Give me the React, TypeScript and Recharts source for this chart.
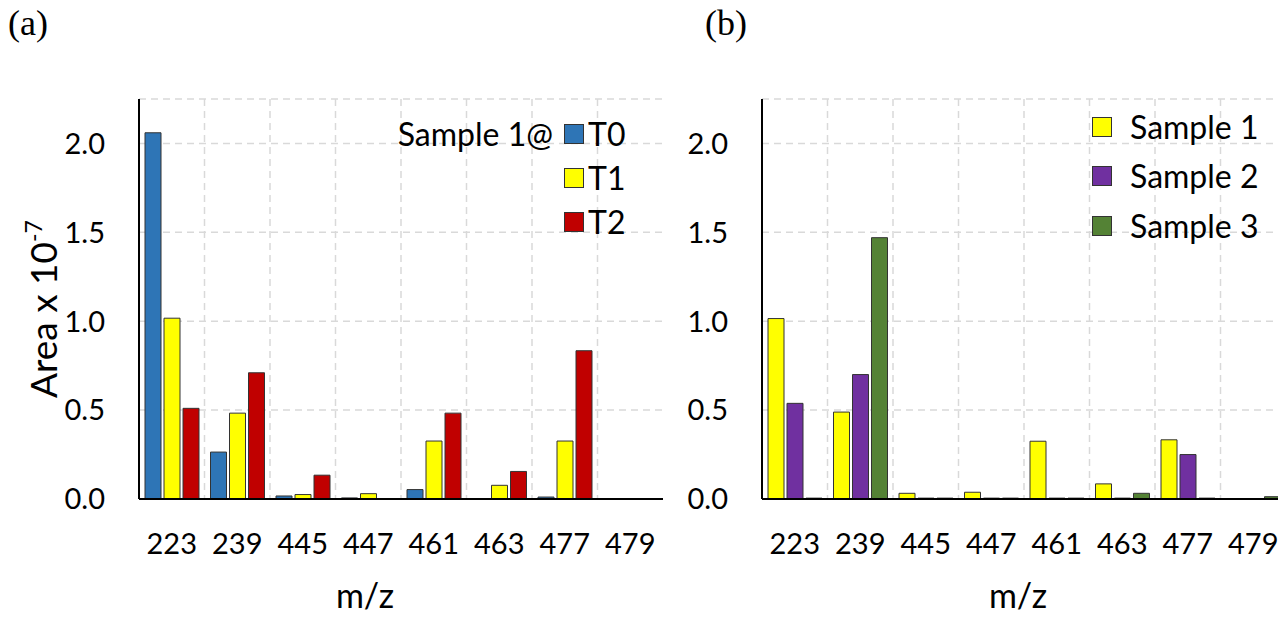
import React from "react";
import { BarChart, Bar, XAxis, YAxis, CartesianGrid } from "recharts";

// m/z categories shared by both panels
const MZ = ["223", "239", "445", "447", "461", "463", "477", "479"];

// panel (a): Sample 1 at three time points (Area x 10^-7)
const T0 = [2.06, 0.264, 0.017, 0.006, 0.053, 0, 0.011, 0];
const T1 = [1.017, 0.483, 0.025, 0.03, 0.326, 0.077, 0.326, 0];
const T2 = [0.51, 0.71, 0.134, 0, 0.483, 0.155, 0.834, 0];

// panel (b): three samples
const S1 = [1.015, 0.489, 0.032, 0.038, 0.325, 0.085, 0.333, 0];
const S2 = [0.538, 0.7, 0.005, 0.005, 0.005, 0.005, 0.25, 0];
const S3 = [0.005, 1.47, 0.005, 0.005, 0.005, 0.032, 0.005, 0.013];

const Y_TICKS = [0, 0.5, 1, 1.5, 2];
const Y_MAX = 2.25;

const FONT = "Lato, 'Open Sans', sans-serif";
const SERIF = "'Liberation Serif', 'Times New Roman', serif";
const OUTLINE = "#333333";

const seriesA = [
  { key: "T0", label: "T0", color: "#2E75B6" },
  { key: "T1", label: "T1", color: "#FFFF00" },
  { key: "T2", label: "T2", color: "#C00000" },
];
const seriesB = [
  { key: "S1", label: "Sample 1", color: "#FFFF00" },
  { key: "S2", label: "Sample 2", color: "#7030A0" },
  { key: "S3", label: "Sample 3", color: "#548235" },
];

const dataA = MZ.map((mz, i) => ({ mz, T0: T0[i], T1: T1[i], T2: T2[i] }));
const dataB = MZ.map((mz, i) => ({ mz, S1: S1[i], S2: S2[i], S3: S3[i] }));

// dashed vertical lines sit between categories, not on them
const boundaries = ({ offset }: any) =>
  MZ.slice(1).map((_, i) => offset.left + ((i + 1) * offset.width) / MZ.length);

const tickStyle = { fontSize: 29, fill: "#000", fontFamily: FONT };
const frame = { stroke: "#000", strokeWidth: 2 };

const AreaLabel = ({ viewBox }: any) => {
  const cx = 57;
  const cy = viewBox.y + viewBox.height / 2 + 10;
  return (
    <text
      x={cx}
      y={cy}
      transform={`rotate(-90 ${cx} ${cy})`}
      textAnchor="middle"
      fill="#000"
      fontSize={37}
      fontFamily={FONT}
    >
      Area x 10
      <tspan dy={-15} fontSize={23}>
        -7
      </tspan>
    </text>
  );
};

const mzLabel = (dx: number) => ({ viewBox }: any) => (
  <text
    x={viewBox.x + viewBox.width / 2 + dx}
    y={viewBox.y + 109}
    textAnchor="middle"
    fill="#000"
    fontSize={34}
    fontFamily={FONT}
  >
    m/z
  </text>
);

const Swatch = ({ color }: { color: string }) => (
  <span
    style={{
      display: "inline-block",
      width: 20,
      height: 20,
      boxSizing: "border-box",
      background: color,
      border: `1.5px solid ${OUTLINE}`,
      flex: "none",
    }}
  />
);

function SeriesLegend({ series, left, top, rowHeight, gap, title }: any) {
  return (
    <div
      style={{
        position: "absolute",
        left,
        top,
        fontFamily: FONT,
        fontSize: 32,
        color: "#000",
      }}
    >
      {title && (
        <div
          style={{
            position: "absolute",
            right: "100%",
            marginRight: 11,
            top: 0,
            height: rowHeight,
            lineHeight: `${rowHeight}px`,
            whiteSpace: "nowrap",
          }}
        >
          {title}
        </div>
      )}
      {series.map((s: any) => (
        <div key={s.key} style={{ display: "flex", alignItems: "center", height: rowHeight, gap }}>
          <Swatch color={s.color} />
          <span style={{ lineHeight: 1, whiteSpace: "nowrap" }}>{s.label}</span>
        </div>
      ))}
    </div>
  );
}

function Panel({ data, series, left, width, marginLeft, marginRight, mzDx, yLabel }: any) {
  return (
    <div style={{ position: "absolute", left, top: 0 }}>
      <BarChart
        width={width}
        height={617}
        data={data}
        margin={{ top: 99, right: marginRight, bottom: 0, left: marginLeft }}
        barSize={16}
        barGap={3}
      >
        <CartesianGrid
          stroke="#d9d9d9"
          strokeWidth={1.5}
          strokeDasharray="7 5"
          verticalCoordinatesGenerator={boundaries}
        />
        <XAxis
          dataKey="mz"
          interval={0}
          height={118}
          tickSize={0}
          tickMargin={34}
          tickLine={false}
          tick={tickStyle}
          axisLine={frame}
          label={{ content: mzLabel(mzDx) }}
        />
        <XAxis
          xAxisId="top"
          dataKey="mz"
          orientation="top"
          height={0}
          tick={false}
          tickLine={false}
          axisLine={frame}
        />
        <YAxis
          type="number"
          domain={[0, Y_MAX]}
          ticks={Y_TICKS}
          width={70}
          tickSize={0}
          tickMargin={34}
          tickLine={false}
          tick={tickStyle}
          tickFormatter={(v: number) => v.toFixed(1)}
          axisLine={frame}
          label={yLabel ? { content: AreaLabel } : undefined}
        />
        <YAxis
          yAxisId="right"
          orientation="right"
          type="number"
          domain={[0, Y_MAX]}
          width={0}
          tick={false}
          tickLine={false}
          axisLine={frame}
        />
        {series.map((s: any) => (
          <Bar
            key={s.key}
            dataKey={s.key}
            name={s.label}
            fill={s.color}
            stroke={OUTLINE}
            strokeWidth={1}
            isAnimationActive={false}
          />
        ))}
      </BarChart>
    </div>
  );
}

export default function App() {
  return (
    <div
      style={{
        position: "fixed",
        left: 0,
        top: 0,
        width: 1278,
        height: 617,
        overflow: "hidden",
        background: "#fff",
      }}
    >
      <svg
        width={1278}
        height={60}
        style={{ position: "absolute", left: 0, top: 0, pointerEvents: "none" }}
      >
        <text x={8} y={35} fontSize={36} fontFamily={SERIF}>
          (a)
        </text>
        <text x={705} y={35} fontSize={36} fontFamily={SERIF}>
          (b)
        </text>
      </svg>
      <Panel
        data={dataA}
        series={seriesA}
        left={0}
        width={700}
        marginLeft={69}
        marginRight={37}
        mzDx={-36}
        yLabel
      />
      <Panel
        data={dataB}
        series={seriesB}
        left={640}
        width={660}
        marginLeft={52}
        marginRight={14}
        mzDx={-6}
      />
      <SeriesLegend series={seriesA} left={564} top={112} rowHeight={44} gap={4} title="Sample 1@" />
      <SeriesLegend series={seriesB} left={1092} top={101.75} rowHeight={49.5} gap={18} />
    </div>
  );
}
